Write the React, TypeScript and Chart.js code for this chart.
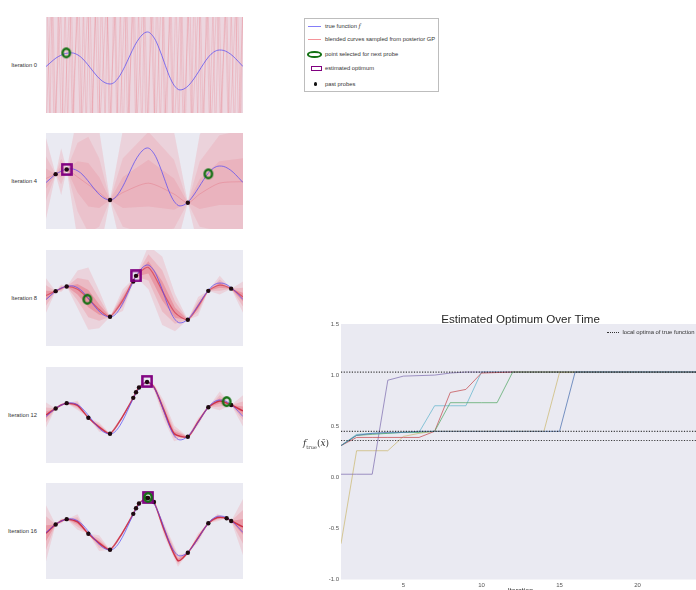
import React, { useEffect, useRef } from "react";
import { Chart, registerables } from "chart.js";
Chart.register(...registerables);

const FONT = "'Liberation Sans', Arial, sans-serif";
Chart.defaults.font.family = FONT;

// ---------------- true function ----------------
const trueX = [0, 0.025, 0.05, 0.075, 0.1, 0.13, 0.15, 0.175, 0.2, 0.225, 0.25, 0.275, 0.3, 0.325, 0.35, 0.375, 0.4, 0.425, 0.45, 0.475, 0.5, 0.515, 0.55, 0.575, 0.6, 0.625, 0.65, 0.68, 0.7, 0.725, 0.75, 0.775, 0.8, 0.825, 0.85, 0.88, 0.9, 0.925, 0.95, 0.975, 1.0];
const trueY = [-0.08, 0.06, 0.19, 0.28, 0.34, 0.36, 0.33, 0.235, 0.075, -0.12, -0.32, -0.49, -0.6, -0.64, -0.57, -0.37, -0.08, 0.26, 0.59, 0.84, 1.0, 1.03, 0.83, 0.49, 0.06, -0.37, -0.68, -0.83, -0.8, -0.68, -0.48, -0.24, 0.01, 0.23, 0.38, 0.45, 0.44, 0.37, 0.25, 0.09, -0.08];

// ---------------- Iteration 0 ----------------
const it0BandX = [0, 0.5, 1];
const it0BandMean = [0, 0, 0];
const it0BandSpread = [3, 3, 3];
const it0StreakX = [0.005, 0.02, 0.032, 0.05, 0.062, 0.08, 0.097, 0.11, 0.128, 0.14, 0.158, 0.175, 0.19, 0.204, 0.222, 0.236, 0.25, 0.268, 0.281, 0.3, 0.312, 0.33, 0.345, 0.36, 0.378, 0.39, 0.41, 0.422, 0.44, 0.455, 0.47, 0.487, 0.5, 0.518, 0.532, 0.55, 0.563, 0.58, 0.597, 0.61, 0.628, 0.642, 0.66, 0.673, 0.69, 0.706, 0.72, 0.738, 0.752, 0.77, 0.783, 0.8, 0.815, 0.83, 0.848, 0.86, 0.878, 0.892, 0.91, 0.925, 0.94, 0.957, 0.97, 0.988, 1.0];
const it0StreakY = [2.3, -1.9, 2.6, -2.4, 1.8, -2.7, 2.1, -2.0, 2.5, -1.7, 2.2, -2.6, 1.9, -2.2, 2.7, -1.8, 2.0, -2.5, 2.4, -1.9, 1.7, -2.3, 2.6, -2.1, 1.9, -2.8, 2.2, -1.7, 2.5, -2.0, 1.8, -2.4, 2.3, -2.6, 2.0, -1.8, 2.7, -2.2, 1.9, -2.5, 2.1, -1.9, 2.4, -2.3, 1.8, -2.7, 2.2, -2.0, 2.6, -1.8, 2.0, -2.4, 2.3, -2.1, 1.9, -2.6, 2.5, -1.7, 2.2, -2.3, 1.8, -2.5, 2.4, -2.0, 2.1];
const it0Streak2X = [0.0, 0.028, 0.041, 0.075, 0.088, 0.121, 0.133, 0.166, 0.181, 0.213, 0.228, 0.259, 0.274, 0.309, 0.321, 0.352, 0.369, 0.401, 0.414, 0.447, 0.462, 0.493, 0.509, 0.541, 0.556, 0.588, 0.602, 0.635, 0.649, 0.681, 0.697, 0.729, 0.744, 0.776, 0.79, 0.822, 0.838, 0.869, 0.884, 0.917, 0.931, 0.963, 0.978, 1.0];
const it0Streak2Y = [-2.0, 2.4, -2.3, 1.9, -2.6, 2.2, -1.8, 2.5, -2.1, 2.0, -2.4, 2.6, -1.9, 2.3, -2.2, 1.8, -2.7, 2.1, -2.0, 2.4, -1.8, 2.2, -2.5, 1.9, -2.3, 2.6, -2.0, 2.1, -2.4, 1.8, -2.2, 2.5, -1.9, 2.3, -2.6, 2.0, -2.1, 2.4, -1.8, 2.2, -2.5, 1.9, -2.2, 2.0];
const it0ProbeX: number[] = [];
const it0ProbeY: number[] = [];
const it0NextX = [0.103];
const it0NextY = [0.36];
const it0BestX: number[] = [];
const it0BestY: number[] = [];

// ---------------- Iteration 4 ----------------
const it4BandX = [0, 0.049, 0.077, 0.105, 0.16, 0.215, 0.27, 0.325, 0.39, 0.52, 0.65, 0.72, 0.78, 0.88, 1.0];
const it4BandMean = [0.05, 0.19, 0.27, 0.34, 0.1, -0.15, -0.4, -0.64, -0.4, -0.1, -0.45, -0.73, -0.45, -0.1, -0.05];
const it4BandSpread = [1.3, 0, 0.75, 0, 2.0, 2.8, 2.0, 0, 2.0, 3.0, 2.0, 0, 1.9, 2.8, 3.0];
const it4ProbeX = [0.049, 0.105, 0.325, 0.72];
const it4ProbeY = [0.19, 0.34, -0.64, -0.73];
const it4NextX = [0.824];
const it4NextY = [0.2];
const it4BestX = [0.105];
const it4BestY = [0.34];

// ---------------- Iteration 8 ----------------
const it8BandX = [0, 0.049, 0.077, 0.105, 0.16, 0.215, 0.27, 0.325, 0.39, 0.455, 0.52, 0.59, 0.655, 0.72, 0.772, 0.824, 0.882, 0.94, 1.0];
const it8BandMean = [0.05, 0.19, 0.28, 0.34, 0.25, -0.05, -0.4, -0.63, -0.1, 0.66, 0.95, 0.2, -0.5, -0.73, -0.3, 0.2, 0.38, 0.27, 0.0];
const it8BandSpread = [0.55, 0, 0.12, 0, 0.6, 1.0, 0.6, 0, 0.35, 0, 0.7, 1.1, 0.6, 0, 0.3, 0, 0.3, 0, 0.5];
const it8ProbeX = [0.049, 0.105, 0.325, 0.443, 0.457, 0.72, 0.824, 0.94];
const it8ProbeY = [0.19, 0.34, -0.63, 0.5, 0.68, -0.73, 0.2, 0.27];
const it8NextX = [0.21];
const it8NextY = [-0.07];
const it8BestX = [0.457];
const it8BestY = [0.68];

// ---------------- Iteration 12 ----------------
const it12BandX = [0, 0.049, 0.077, 0.105, 0.16, 0.215, 0.27, 0.325, 0.385, 0.443, 0.457, 0.472, 0.513, 0.55, 0.6, 0.65, 0.72, 0.772, 0.824, 0.882, 0.94, 1.0];
const it12BandMean = [-0.03, 0.18, 0.29, 0.35, 0.28, -0.12, -0.42, -0.63, -0.12, 0.52, 0.7, 0.85, 1.04, 0.85, 0.1, -0.62, -0.73, -0.25, 0.22, 0.42, 0.29, 0.1];
const it12BandSpread = [0.4, 0, 0.05, 0, 0.15, 0, 0.15, 0, 0.05, 0, 0, 0, 0, 0.1, 0.3, 0.25, 0, 0.12, 0, 0.3, 0, 0.5];
const it12ProbeX = [0.049, 0.105, 0.215, 0.325, 0.443, 0.457, 0.472, 0.513, 0.72, 0.824, 0.94];
const it12ProbeY = [0.18, 0.35, -0.12, -0.63, 0.52, 0.7, 0.85, 1.03, -0.73, 0.22, 0.29];
const it12NextX = [0.917];
const it12NextY = [0.4];
const it12BestX = [0.513];
const it12BestY = [1.05];

// ---------------- Iteration 16 ----------------
const it16BandX = [0, 0.049, 0.077, 0.105, 0.16, 0.215, 0.27, 0.325, 0.385, 0.443, 0.457, 0.472, 0.513, 0.548, 0.6, 0.67, 0.72, 0.772, 0.824, 0.87, 0.917, 0.94, 1.0];
const it16BandMean = [-0.1, 0.18, 0.29, 0.35, 0.26, -0.12, -0.42, -0.63, -0.12, 0.52, 0.7, 0.85, 1.04, 0.9, 0.0, -0.98, -0.73, -0.25, 0.22, 0.4, 0.38, 0.29, 0.1];
const it16BandSpread = [0.9, 0, 0.08, 0, 0.25, 0, 0.25, 0, 0.05, 0, 0, 0, 0, 0, 0.2, 0.2, 0, 0.15, 0, 0.12, 0, 0, 0.9];
const it16ProbeX = [0.049, 0.105, 0.215, 0.325, 0.443, 0.457, 0.472, 0.513, 0.518, 0.548, 0.72, 0.824, 0.917, 0.94];
const it16ProbeY = [0.18, 0.35, -0.12, -0.63, 0.52, 0.7, 0.85, 1.03, 1.03, 0.9, -0.73, 0.22, 0.38, 0.29];
const it16NextX = [0.518];
const it16NextY = [1.05];
const it16BestX = [0.518];
const it16BestY = [1.05];

// ---------------- Estimated optimum over time ----------------
const iterations = [1, 2, 3, 4, 5, 6, 7, 8, 9, 10, 11, 12, 13, 14, 15, 16, 17, 18, 19, 20, 21, 22, 23, 24];
const runBlue = [0.31, 0.41, 0.43, 0.44, 0.44, 0.45, 0.45, 0.45, 0.45, 0.45, 0.45, 0.45, 0.45, 0.45, 0.45, 1.03, 1.03, 1.03, 1.03, 1.03, 1.03, 1.03, 1.03, 1.03];
const runGreen = [0.31, 0.41, 0.42, 0.43, 0.44, 0.44, 0.45, 0.73, 0.73, 0.73, 0.73, 1.03, 1.03, 1.03, 1.03, 1.03, 1.03, 1.03, 1.03, 1.03, 1.03, 1.03, 1.03, 1.03];
const runRed = [0.31, 0.39, 0.39, 0.39, 0.39, 0.39, 0.45, 0.83, 0.86, 1.02, 1.025, 1.03, 1.03, 1.03, 1.03, 1.03, 1.03, 1.03, 1.03, 1.03, 1.03, 1.03, 1.03, 1.03];
const runPurple = [0.03, 0.03, 0.03, 0.95, 0.99, 0.995, 1.0, 1.02, 1.03, 1.03, 1.03, 1.03, 1.03, 1.03, 1.03, 1.03, 1.03, 1.03, 1.03, 1.03, 1.03, 1.03, 1.03, 1.03];
const runYellow = [-0.65, 0.26, 0.26, 0.26, 0.4, 0.43, 0.45, 0.45, 0.45, 0.45, 0.45, 0.45, 0.45, 0.45, 1.025, 1.025, 1.025, 1.025, 1.025, 1.025, 1.025, 1.025, 1.025, 1.025];
const runCyan = [0.31, 0.42, 0.43, 0.43, 0.44, 0.44, 0.7, 0.7, 0.7, 1.03, 1.03, 1.03, 1.03, 1.03, 1.03, 1.03, 1.03, 1.03, 1.03, 1.03, 1.03, 1.03, 1.03, 1.03];
const localOptima = [1.03, 0.45, 0.36];
const xTickValues = [5, 10, 15, 20];
const yTickValues = [-1.0, -0.5, 0.0, 0.5, 1.0, 1.5];
const chartTitle = "Estimated Optimum Over Time";

const panelLabels = ["Iteration 0", "Iteration 4", "Iteration 8", "Iteration 12", "Iteration 16"];
const panelTops = [17, 133, 250, 367, 483];

const levelsFull = [
  { k: 1, color: "rgba(245,95,105,0.16)" },
  { k: 0.6, color: "rgba(235,60,75,0.17)" },
  { k: 0.28, color: "rgba(215,30,50,0.24)" },
];
const levelsWide = [
  { k: 1, color: "rgba(245,95,105,0.17)" },
  { k: 0.55, color: "rgba(240,80,95,0.12)" },
  { k: 0.25, color: "rgba(230,60,80,0.12)" },
];
const levelsFlat = [{ k: 1, color: "rgba(245,100,112,0.15)" }];

const panels = [
  { bandX: it0BandX, bandMean: it0BandMean, bandSpread: it0BandSpread, streaks: [[it0StreakX, it0StreakY], [it0Streak2X, it0Streak2Y]], probeX: it0ProbeX, probeY: it0ProbeY, nextX: it0NextX, nextY: it0NextY, bestX: it0BestX, bestY: it0BestY, levels: levelsFlat, meanColor: "", meanWidth: 1 },
  { bandX: it4BandX, bandMean: it4BandMean, bandSpread: it4BandSpread, streaks: [], probeX: it4ProbeX, probeY: it4ProbeY, nextX: it4NextX, nextY: it4NextY, bestX: it4BestX, bestY: it4BestY, levels: levelsWide, meanColor: "rgba(220,50,70,0.2)", meanWidth: 1 },
  { bandX: it8BandX, bandMean: it8BandMean, bandSpread: it8BandSpread, streaks: [], probeX: it8ProbeX, probeY: it8ProbeY, nextX: it8NextX, nextY: it8NextY, bestX: it8BestX, bestY: it8BestY, levels: levelsFull, meanColor: "rgba(200,20,45,0.5)", meanWidth: 1.2 },
  { bandX: it12BandX, bandMean: it12BandMean, bandSpread: it12BandSpread, streaks: [], probeX: it12ProbeX, probeY: it12ProbeY, nextX: it12NextX, nextY: it12NextY, bestX: it12BestX, bestY: it12BestY, levels: levelsFull, meanColor: "rgba(195,15,40,0.75)", meanWidth: 1.5 },
  { bandX: it16BandX, bandMean: it16BandMean, bandSpread: it16BandSpread, streaks: [], probeX: it16ProbeX, probeY: it16ProbeY, nextX: it16NextX, nextY: it16NextY, bestX: it16BestX, bestY: it16BestY, levels: levelsFull, meanColor: "rgba(195,15,40,0.75)", meanWidth: 1.5 },
];

const BG = "#EAEAF2";
const TRUE_COLOR = "rgba(80,70,245,0.7)";

const zip = (xs: number[], ys: number[]) => xs.map((x, i) => ({ x, y: ys[i] }));

const bgPlugin = {
  id: "panelBg",
  beforeDraw(chart: any) {
    const { ctx, chartArea } = chart;
    ctx.save();
    ctx.fillStyle = BG;
    ctx.fillRect(chartArea.left, chartArea.top, chartArea.right - chartArea.left, chartArea.bottom - chartArea.top);
    ctx.restore();
  },
};

function makeRing() {
  const c = document.createElement("canvas");
  c.width = 12; c.height = 13;
  const g = c.getContext("2d")!;
  g.strokeStyle = "#127012";
  g.lineWidth = 2.4;
  g.beginPath();
  g.ellipse(6, 6.5, 3.7, 4.3, 0, 0, Math.PI * 2);
  g.stroke();
  return c;
}
function makeSquare() {
  const c = document.createElement("canvas");
  c.width = 12; c.height = 13;
  const g = c.getContext("2d")!;
  g.strokeStyle = "#800080";
  g.lineWidth = 2.5;
  g.strokeRect(1.4, 1.4, 9.2, 10.2);
  return c;
}

function Panel({ idx }: { idx: number }) {
  const ref = useRef<HTMLCanvasElement>(null);
  useEffect(() => {
    const p = panels[idx];
    const datasets: any[] = [];
    p.levels.forEach((l) => {
      datasets.push({
        data: p.bandX.map((x, i) => ({ x, y: p.bandMean[i] + p.bandSpread[i] * l.k })),
        fill: "+1", backgroundColor: l.color, borderColor: "transparent", borderWidth: 0,
        pointRadius: 0, tension: 0, order: 10,
      });
      datasets.push({
        data: p.bandX.map((x, i) => ({ x, y: p.bandMean[i] - p.bandSpread[i] * l.k })),
        fill: false, borderColor: "transparent", borderWidth: 0, pointRadius: 0, tension: 0, order: 10,
      });
    });
    p.streaks.forEach(([sx, sy]: any) => {
      datasets.push({ data: zip(sx, sy), borderColor: "rgba(232,80,95,0.22)", borderWidth: 0.8, pointRadius: 0, tension: 0, fill: false, order: 9 });
    });
    if (p.meanColor) {
      datasets.push({ data: zip(p.bandX, p.bandMean), borderColor: p.meanColor, borderWidth: p.meanWidth, pointRadius: 0, tension: 0.25, fill: false, order: 8 });
    }
    datasets.push({ data: zip(trueX, trueY), borderColor: TRUE_COLOR, borderWidth: 1, pointRadius: 0, cubicInterpolationMode: "monotone", fill: false, order: 5 });
    datasets.push({ data: zip(p.probeX, p.probeY), showLine: false, pointRadius: 2.2, pointBackgroundColor: "#1e0a10", pointBorderWidth: 0, order: 3 });
    datasets.push({ data: zip(p.bestX, p.bestY), showLine: false, pointStyle: makeSquare(), pointRadius: 6, order: 2 });
    datasets.push({ data: zip(p.nextX, p.nextY), showLine: false, pointStyle: makeRing(), pointRadius: 6, order: 1 });

    const chart = new Chart(ref.current!, {
      type: "line",
      data: { datasets },
      options: {
        animation: false, responsive: false,
        layout: { padding: 0, autoPadding: false },
        plugins: { legend: { display: false }, tooltip: { enabled: false } },
        scales: {
          x: { type: "linear", min: 0, max: 1, display: false },
          y: { type: "linear", min: -1.57, max: 1.51, display: false },
        },
      } as any,
      plugins: [bgPlugin],
    });
    return () => chart.destroy();
  }, [idx]);
  return (
    <canvas ref={ref} width={197} height={96}
      style={{ position: "absolute", left: 46, top: panelTops[idx], width: 197, height: 96 }} />
  );
}

const titlePlugin = {
  id: "optTitle",
  afterDraw(chart: any) {
    const { ctx, chartArea } = chart;
    ctx.save();
    ctx.font = `11.6px ${FONT}`;
    ctx.fillStyle = "#262626";
    ctx.textAlign = "center";
    ctx.textBaseline = "alphabetic";
    ctx.fillText(chartTitle, (chartArea.left + chartArea.right) / 2, chartArea.top - 1);
    ctx.restore();
  },
};

function OptimumChart() {
  const ref = useRef<HTMLCanvasElement>(null);
  useEffect(() => {
    const runs = [
      { v: runBlue, c: "rgba(76,114,176,0.75)" },
      { v: runGreen, c: "rgba(85,168,104,0.75)" },
      { v: runRed, c: "rgba(196,78,82,0.75)" },
      { v: runPurple, c: "rgba(129,114,178,0.75)" },
      { v: runYellow, c: "rgba(204,185,116,0.75)" },
      { v: runCyan, c: "rgba(100,181,205,0.75)" },
    ];
    const datasets: any[] = [
      ...localOptima.map((v) => ({
        data: [{ x: iterations[0], y: v }, { x: iterations[iterations.length - 1], y: v }],
        borderColor: "rgba(30,30,30,0.85)", borderWidth: 1.2, borderDash: [1.2, 1.5], pointRadius: 0, fill: false, order: 0,
      })),
      ...runs.map((r) => ({
        data: zip(iterations, r.v), borderColor: r.c, borderWidth: 1, pointRadius: 0, tension: 0, fill: false, order: 1,
      })),
    ];
    const chart = new Chart(ref.current!, {
      type: "line",
      data: { datasets },
      options: {
        animation: false, responsive: false,
        layout: { padding: { top: 24, left: 0, right: 0, bottom: 0 }, autoPadding: false },
        plugins: { legend: { display: false }, tooltip: { enabled: false } },
        scales: {
          x: {
            type: "linear", min: 1, max: 24,
            grid: { display: false, drawTicks: false }, border: { display: false },
            afterBuildTicks: (s: any) => { s.ticks = xTickValues.map((v) => ({ value: v })); },
            afterFit: (s: any) => { s.height = 20.5; s.paddingLeft = 0; s.paddingRight = 0; },
            ticks: { font: { size: 6 }, color: "#555", padding: 2, maxRotation: 0 },
            title: { display: true, text: "Iteration", font: { size: 7 }, color: "#333", padding: { top: 0, bottom: 5 } },
          },
          y: {
            type: "linear", min: -1, max: 1.5,
            grid: { display: false, drawTicks: false }, border: { display: false },
            afterBuildTicks: (s: any) => { s.ticks = yTickValues.map((v) => ({ value: v })); },
            afterFit: (s: any) => { s.width = 41; s.paddingTop = 0; s.paddingBottom = 0; },
            ticks: { font: { size: 6 }, color: "#555", padding: 2, callback: (v: any) => Number(v).toFixed(1) },
          },
        },
      } as any,
      plugins: [bgPlugin, titlePlugin],
    });
    return () => chart.destroy();
  }, []);
  return (
    <canvas ref={ref} width={400} height={300}
      style={{ position: "absolute", left: 300, top: 300, width: 400, height: 300 }} />
  );
}

const txt: React.CSSProperties = { position: "absolute", fontFamily: FONT, fontSize: 5.8, color: "#333", whiteSpace: "nowrap", lineHeight: "8px", height: 8 };

function Legend() {
  const rowY = [26, 39.3, 54.3, 68.3, 84];
  return (
    <>
      <div style={{ position: "absolute", left: 304, top: 18, width: 135, height: 74, border: "1px solid #bdbdbd", background: "#fff", boxSizing: "border-box" }} />
      <div style={{ position: "absolute", left: 308, top: rowY[0] - 0.5, width: 13, height: 1, background: TRUE_COLOR }} />
      <div style={{ ...txt, left: 325, top: rowY[0] - 4 }}>true function <i style={{ fontFamily: "'DejaVu Serif', serif" }}>f</i></div>
      <div style={{ position: "absolute", left: 308, top: rowY[1] - 0.5, width: 13, height: 1, background: "rgba(240,90,100,0.65)" }} />
      <div style={{ ...txt, left: 325, top: rowY[1] - 4 }}>blended curves sampled from posterior GP</div>
      <div style={{ position: "absolute", left: 307, top: rowY[2] - 3.3, width: 14.5, height: 6.6, border: "2.2px solid #127012", borderRadius: "50%", boxSizing: "border-box" }} />
      <div style={{ ...txt, left: 325, top: rowY[2] - 4 }}>point selected for next probe</div>
      <div style={{ position: "absolute", left: 311, top: rowY[3] - 2.6, width: 10.7, height: 5.2, border: "1.8px solid #800080", background: "#fff", boxSizing: "border-box" }} />
      <div style={{ ...txt, left: 325, top: rowY[3] - 4 }}>estimated optimum</div>
      <div style={{ position: "absolute", left: 314, top: rowY[4] - 1.7, width: 3.4, height: 3.4, borderRadius: "50%", background: "#111" }} />
      <div style={{ ...txt, left: 325, top: rowY[4] - 4 }}>past probes</div>
    </>
  );
}

export default function App() {
  return (
    <div style={{ position: "fixed", left: 0, top: 0, width: 696, height: 590, overflow: "hidden", background: "#fff" }}>
      {panelLabels.map((l, i) => (
        <div key={l} style={{ ...txt, left: 0, width: 37, textAlign: "right", top: panelTops[i] + 48 - 4 }}>{l}</div>
      ))}
      {panels.map((_, i) => <Panel key={i} idx={i} />)}
      <Legend />
      <OptimumChart />
      <div style={{ position: "absolute", left: 607, top: 331.5, width: 12, height: 0, borderTop: "1px dotted #333" }} />
      <div style={{ ...txt, left: 622.5, top: 328, fontSize: 5.9 }}>local optima of true function</div>
      <div style={{ position: "absolute", left: 303, top: 437, fontFamily: "'DejaVu Serif', serif", fontSize: 9, color: "#333", whiteSpace: "nowrap", lineHeight: "12px" }}>
        <i>f</i><sub style={{ fontSize: 5, fontStyle: "normal" }}>true</sub>(<i>x̄</i>)
      </div>
    </div>
  );
}
